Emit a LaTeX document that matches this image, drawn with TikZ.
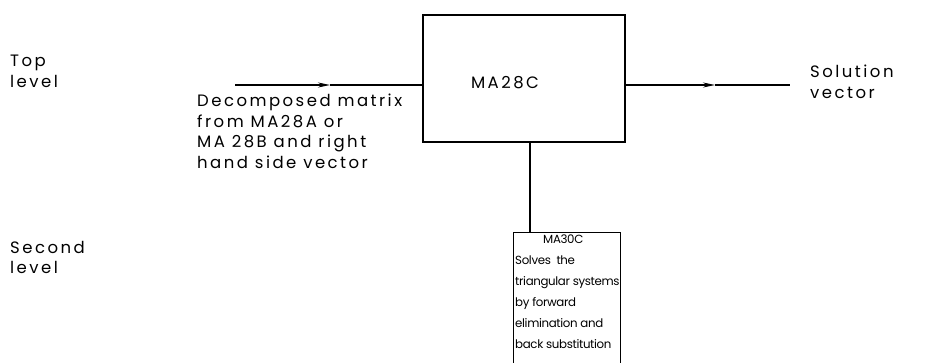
\documentclass[tikz,border=0pt]{standalone}
\usepackage{fontspec}
\setmainfont{Poppins}
\newfontfamily\widefont{Poppins}[LetterSpace=15]
\newfontfamily\tightfont{Poppins}[LetterSpace=-3]
\usetikzlibrary{arrows.meta}
\tikzset{
  blk/.style={draw, line width=1.3pt, inner sep=0pt},
  lbl/.style={inner sep=0pt, anchor=north west, align=left, font=\widefont\fontsize{16.5}{20.5}\selectfont},
  small/.style={inner sep=0pt, anchor=north west, align=left, font=\tightfont\fontsize{11.8}{21}\selectfont},
  conn/.style={line width=1.2pt},
  flowtip/.style={line width=1.2pt, -{Stealth[length=12pt,width=5pt]}}
}
\begin{document}
\begin{tikzpicture}[x=1pt,y=-1pt]
\useasboundingbox (0,0) rectangle (926,362);
% main box
\node[blk, minimum width=202pt, minimum height=127pt] (main) at (524,78.5) {};
\node[font=\widefont\fontsize{16.5}{18}\selectfont, inner sep=0pt] (mainlbl) at (505,83) {MA28C};
% lower box
\node[blk, minimum width=107pt, minimum height=132pt, anchor=north west] (low) at (513,232) {};
\node[small] (lowtxt) at (515,235) {\hspace*{28pt}MA30C\\Solves\ \ the\\triangular systems\\by forward\\elimination and\\back substitution};
% connectors
\coordinate (in) at (235,85);
\coordinate (inmid) at (330,85);
\coordinate (outmid) at (715,85);
\coordinate (out) at (790,85);
\draw[flowtip] (in) -- (inmid);
\draw[conn] (inmid) -- (main.west |- in);
\draw[flowtip] (main.east |- out) -- (outmid);
\draw[conn] (outmid) -- (out);
\draw[conn] (main.south -| 530,0) -- (low.north -| 530,0);
% labels
\node[lbl] (top) at (10,55) {Top\\level};
\node[lbl] (second) at (10,241) {Second\\level};
\node[lbl] (input) at (197,94) {Decomposed matrix\\from MA28A or\\MA 28B and right\\hand side vector};
\node[lbl] (sol) at (810,65) {Solution\\vector};
\end{tikzpicture}
\end{document}
